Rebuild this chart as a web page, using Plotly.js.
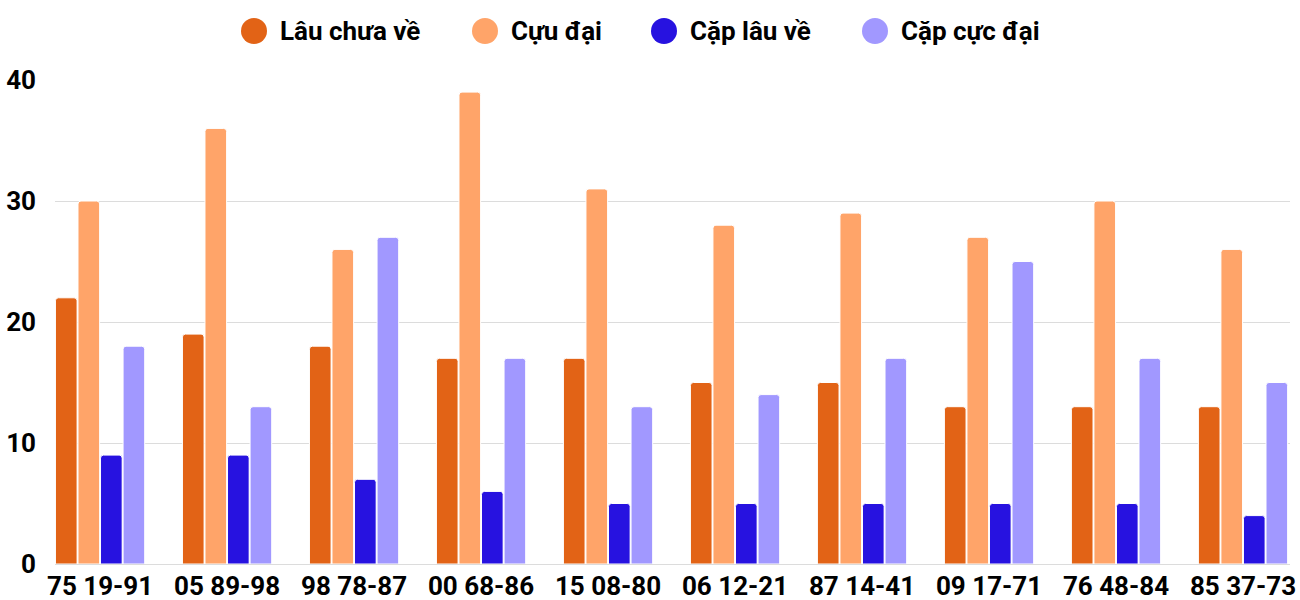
<!DOCTYPE html>
<html><head><meta charset="utf-8">
<script src="https://cdn.plot.ly/plotly-3.0.1.min.js"></script>
<style>html,body{margin:0;padding:0;background:#fff}#chart{width:1300px;height:600px}</style>
</head><body><div id="chart"></div>
<script>
const categories = ["75 19-91","05 89-98","98 78-87","00 68-86","15 08-80","06 12-21","87 14-41","09 17-71","76 48-84","85 37-73"];
const seriesNames = ["Lâu chưa về","Cựu đại","Cặp lâu về","Cặp cực đại"];
const lauChuaVe = [22,19,18,17,17,15,15,13,13,13];
const cuuDai = [30,36,26,39,31,28,29,27,30,26];
const capLauVe = [9,9,7,6,5,5,5,5,5,4];
const capCucDai = [18,13,27,17,13,14,17,25,17,15];
const colors = ["#E26316","#FFA469","#2712E0","#A198FF"];
const values = [lauChuaVe, cuuDai, capLauVe, capCucDai];

const traces = values.map((v,i)=>({type:"bar", x:categories, y:v, name:seriesNames[i], showlegend:false,
    marker:{color:colors[i], line:{color:"#ffffff", width:1}}, hoverinfo:"y"}));

// custom legend layout (pixel positions of legend items converted to paper coords)
const L = 55, R = 1290, T = 80, B = 564;
const px2x = p => (p - L) / (R - L);
const py2y = p => (B - p) / (B - T);
const legendCircleX = [254, 485, 664, 875];
const legendY = 31;
const shapes = [], annotations = [];
seriesNames.forEach((n,i)=>{
  shapes.push({type:"circle", xref:"paper", yref:"paper", xsizemode:"pixel", ysizemode:"pixel",
    xanchor:px2x(legendCircleX[i]), yanchor:py2y(legendY), x0:-13, x1:13, y0:-13, y1:13,
    fillcolor:colors[i], line:{width:0}});
  annotations.push({xref:"paper", yref:"paper", x:px2x(legendCircleX[i]+24), y:py2y(legendY),
    xanchor:"left", yanchor:"middle", showarrow:false, text:n,
    font:{family:"Roboto, sans-serif", size:26, weight:"bold", color:"#000"}});
});

const layout = {
  width:1300, height:600,
  margin:{l:L, r:1300-R, t:T, b:600-B},
  font:{family:"Roboto, sans-serif", size:22, color:"#000"},
  paper_bgcolor:"#fff", plot_bgcolor:"#fff",
  barmode:"group", bargap:0.29, bargroupgap:0.04, barcornerradius:3,
  showlegend:false, shapes:shapes, annotations:annotations,
  xaxis:{type:"category", range:[-0.355, 9.37], showgrid:false, zeroline:false, showline:false,
    ticks:"", ticklabelstandoff:4, tickfont:{family:"Roboto, sans-serif", size:26, weight:"bold"}, automargin:false},
  yaxis:{range:[0,40], tickvals:[0,10,20,30,40], showgrid:true, gridcolor:"#dcdcdc", gridwidth:1,
    zeroline:true, zerolinecolor:"#dcdcdc", zerolinewidth:1, ticks:"", ticklabelstandoff:18,
    tickfont:{family:"Roboto, sans-serif", size:26, weight:"bold"}, automargin:false}
};
Plotly.newPlot("chart", traces, layout, {displayModeBar:false, staticPlot:true});
</script></body></html>
